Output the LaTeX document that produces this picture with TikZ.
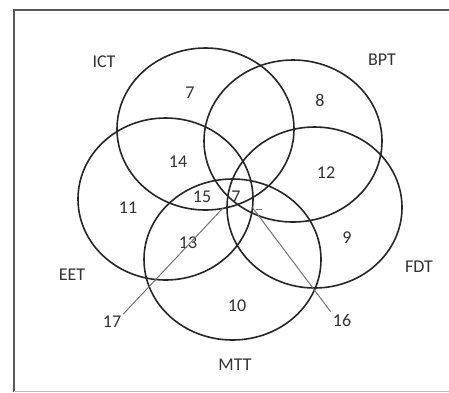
\documentclass[tikz,border=0pt]{standalone}
\usepackage{fontspec}
\setmainfont{Carlito}
\begin{document}
\begin{tikzpicture}[x=1pt,y=-1pt,
  ring/.style={draw=black!85,line width=1.6pt},
  lbl/.style={font=\fontsize{18}{20}\selectfont,text=black!80,inner sep=0pt},
  ptr/.style={draw=black!55,line width=1pt},
  frm/.style={draw=black!65,line width=2pt}]
\useasboundingbox (0,0) rectangle (449,392);
\fill[white] (0,0) rectangle (449,392);
\coordinate (fTL) at (14,10);
\coordinate (fTR) at (449,10);
\coordinate (fBL) at (14,392);
\draw[frm] (fBL) -- (fTL) -- (fTR);
\draw[draw=black!25,line width=1pt] (14,391) -- (449,391);
% circles
\draw[ring] (205.5,129) ellipse [x radius=88.5, y radius=81];   % ICT
\draw[ring] (293,141) ellipse [x radius=89, y radius=81];        % BPT
\draw[ring] (165.5,199) ellipse [x radius=87.5, y radius=81];   % EET
\draw[ring] (314.5,207.5) ellipse [x radius=87.5, y radius=80.5]; % FDT
\draw[ring] (232.5,259.5) ellipse [x radius=88.5, y radius=80.5]; % MTT
% set labels
\node[lbl] (ict) at (104,62) {ICT};
\node[lbl] (bpt) at (382,60) {BPT};
\node[lbl] (eet) at (72,275) {EET};
\node[lbl] (fdt) at (419,267) {FDT};
\node[lbl] (mtt) at (235,365) {MTT};
% region numbers
\node[lbl] (n7) at (190,93) {7};
\node[lbl] (n8) at (320,100) {8};
\node[lbl] (n14) at (178,162) {14};
\node[lbl] (n12) at (326,173) {12};
\node[lbl] (n15) at (202,197) {15};
\node[lbl] (nc) at (236,197) {7};
\node[lbl] (n11) at (128,208) {11};
\node[lbl] (n13) at (188,243) {13};
\node[lbl] (n9) at (347,238) {9};
\node[lbl] (n10) at (237,306) {10};
\node[lbl] (n17) at (112,322) {17};
\node[lbl] (n16) at (342,320) {16};
% pointers
\coordinate (p17) at (223,208);
\coordinate (p16) at (252,207);
\draw[ptr] (n17.north east) ++(2,-2) coordinate (s17) -- (p17);
\draw[ptr] (n16.north west) ++(-2,-2) coordinate (s16) -- (p16);
\draw[ptr] (256,209) -- (262,209);
\end{tikzpicture}
\end{document}
